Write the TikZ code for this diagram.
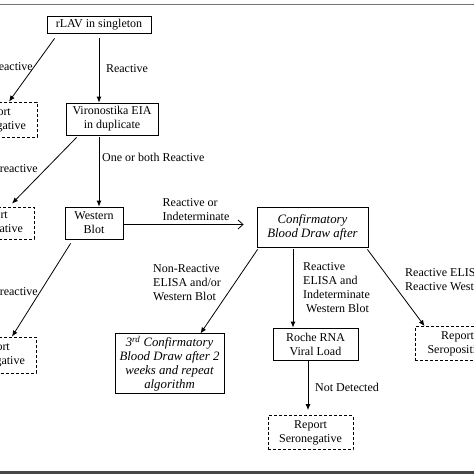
\documentclass[tikz,border=0pt]{standalone}
\usepackage{fontspec}
\setmainfont{Liberation Serif}
\usetikzlibrary{arrows.meta}

\begin{document}
\begin{tikzpicture}[x=1pt,y=1pt,
  font=\fontsize{12}{14}\selectfont,
  box/.style={draw, line width=0.8pt, align=center, inner sep=2pt, minimum height=32pt},
  ibox/.style={box, font=\fontsize{12.8}{14}\selectfont\itshape},
  dbox/.style={box, dash pattern=on 3pt off 2pt, minimum width=85pt, minimum height=34pt},
  arr/.style={line width=0.8pt, -{Latex[length=6pt,width=5pt]}},
  lbl/.style={align=left, inner sep=0pt}
]
% The frame
\useasboundingbox (0,0) rectangle (474,-474);
\clip (0,0) rectangle (474,-474);
\draw[black!55, line width=1.5pt] (0,-4.5) -- (474,-4.5);
\fill[black!72] (0,-470.5) rectangle (474,-474);

% The boxes
\node[box, minimum width=104pt, minimum height=17pt] (rlav) at (99,-24.5) {rLAV in singleton};
\node[box, minimum width=92pt] (viro) at (112,-119) {Vironostika EIA\\in duplicate};
\node[box, minimum width=58pt] (wb) at (94,-223) {Western\\Blot};
\node[ibox, minimum width=111pt, minimum height=40pt] (conf) at (312.5,-227) {Confirmatory\\Blood Draw after};
\node[ibox, minimum width=109pt, minimum height=59pt] (third) at (169.5,-363.5) {3\textsuperscript{rd} Confirmatory\\Blood Draw after 2\\weeks and repeat\\algorithm};
\node[box, minimum width=85pt] (roche) at (315.5,-344) {Roche RNA\\Viral Load};
\node[dbox, minimum height=35pt] (rep1) at (-5.5,-119.5) {Report\\Seronegative};
\node[dbox, minimum height=32pt] (rep2) at (-8.5,-223) {Report\\Seronegative};
\node[dbox, minimum height=36pt] (rep3) at (-6.5,-355) {Report\\Seronegative};
\node[dbox] (repneg) at (310.5,-432.5) {Report\\Seronegative};
\node[dbox] (reppos) at (457.5,-343.5) {Report\\Seropositive};

% The arrows
\draw[arr] ([xshift=8pt,yshift=-5pt]rlav.south west) -- ([xshift=14.5pt]rep1.north);
\draw[arr] ([yshift=-5pt]rlav.south) -- (rlav.south |- viro.north);
\draw[arr] ([xshift=11pt,yshift=-2pt]viro.south west) -- ([xshift=20.5pt,yshift=3pt]rep2.north);
\draw[arr] ([yshift=-2pt]rlav.south |- viro.south) -- (rlav.south |- wb.north);
\draw[line width=0.8pt, -{Straight Barb[length=5pt,width=9pt]}] ([yshift=-1.5pt]wb.east) -- ([xshift=-13pt,yshift=-1.5pt]wb.east -| conf.west);
\draw[arr] ([xshift=6pt,yshift=-4pt]wb.south west) -- ([xshift=18.5pt]rep3.north);
\draw[arr] ([xshift=1pt,yshift=-2pt]conf.south west) -- ([xshift=31pt]third.north);
\draw[arr] ([xshift=-19.5pt,yshift=-2pt]conf.south) -- ([xshift=-19.5pt]conf.south |- roche.north);
\draw[arr] ([xshift=-7.5pt]roche.south) -- ([xshift=-7.5pt,yshift=5pt]roche.south |- repneg.north);
\draw[arr] ([xshift=-1pt,yshift=-2pt]conf.south east) -- ([xshift=10pt]reppos.north west);

% The labels
\node[lbl, anchor=east] (nr1) at (33,-67) {Non-Reactive};
\node[lbl] (r1) at (127,-69) {Reactive};
\node[lbl, anchor=east] (nr2) at (38,-169) {Non-reactive};
\node[lbl, anchor=west] (both) at (102,-157) {One or both Reactive};
\node[lbl] (rind) at (196,-210) {Reactive or\\Indeterminate};
\node[lbl] (nrel) at (187,-283) {Non-Reactive\\ELISA and/or\\Western Blot};
\node[lbl, anchor=east] (nr3) at (38,-292) {Non-reactive};
\node[lbl, anchor=west] (rel) at (303,-288) {Reactive\\ELISA and\\Indeterminate\\\ Western Blot};
\node[lbl, anchor=west] (nd) at (315,-387) {Not Detected};
\node[lbl, anchor=west] (rpos) at (405,-280) {Reactive ELISA\\Reactive Western Blot};
\end{tikzpicture}
\end{document}
